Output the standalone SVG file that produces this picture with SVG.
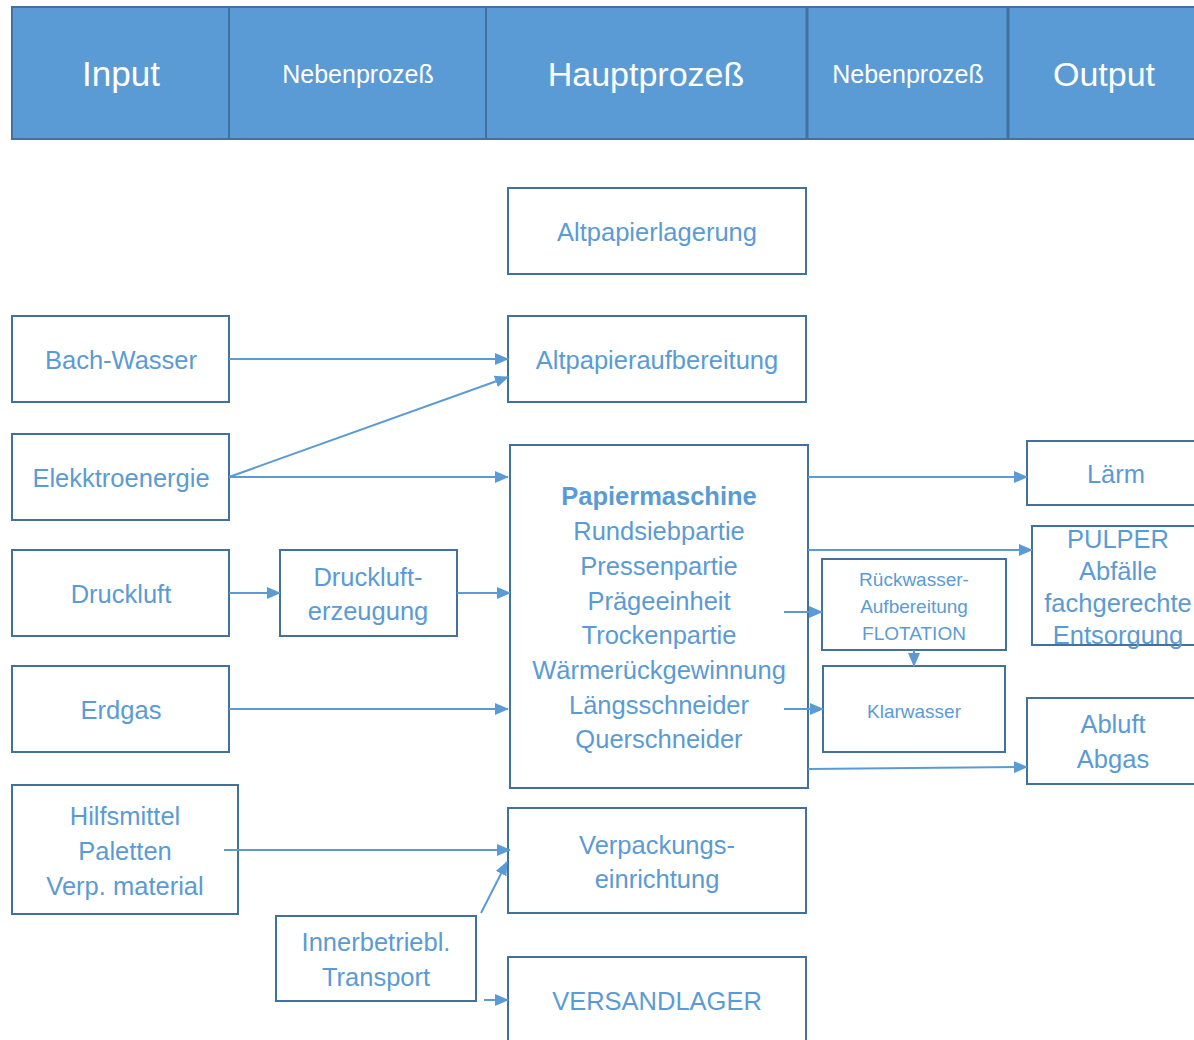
<svg xmlns="http://www.w3.org/2000/svg" width="1194" height="1040" viewBox="0 0 1194 1040">
<style>
.hdr{fill:#5B9BD5;stroke:#41719C;stroke-width:2}
.box{fill:#fff;stroke:#41719C;stroke-width:2}
.ht{fill:#fff;font-family:"Liberation Sans",Arial,sans-serif;text-anchor:middle}
.t{fill:#5B9BD5;font-family:"Liberation Sans",Arial,sans-serif;font-size:25.5px;text-anchor:middle}
.s{font-size:19px}
.c{stroke:#5B9BD5;stroke-width:2;fill:none;marker-end:url(#ah)}
</style>
<defs>
<marker id="ah" markerUnits="userSpaceOnUse" markerWidth="14" markerHeight="12" refX="13" refY="6" orient="auto">
<path d="M0,0 L14,6 L0,12 Z" fill="#5B9BD5"/>
</marker>
</defs>
<g id="header">
<rect class="hdr" x="12" y="7" width="1190" height="132"/>
<line x1="229" y1="7" x2="229" y2="139" stroke="#41719C" stroke-width="2"/>
<line x1="486" y1="7" x2="486" y2="139" stroke="#41719C" stroke-width="2"/>
<line x1="807" y1="7" x2="807" y2="139" stroke="#41719C" stroke-width="3"/>
<line x1="1008" y1="7" x2="1008" y2="139" stroke="#41719C" stroke-width="3"/>
<text class="ht" x="121" y="86" font-size="35">Input</text>
<text class="ht" x="358" y="83" font-size="25">Nebenprozeß</text>
<text class="ht" x="646" y="86" font-size="34">Hauptprozeß</text>
<text class="ht" x="908" y="83" font-size="25">Nebenprozeß</text>
<text class="ht" x="1104" y="86" font-size="34">Output</text>
</g>
<g id="altpapierlagerung"><rect class="box" x="508" y="188" width="298" height="86"/><text class="t" x="657" y="241">Altpapierlagerung</text></g>
<g id="altpapieraufbereitung"><rect class="box" x="508" y="316" width="298" height="86"/><text class="t" x="657" y="369">Altpapieraufbereitung</text></g>
<g id="bachwasser"><rect class="box" x="12" y="316" width="217" height="86"/><text class="t" x="121" y="369">Bach-Wasser</text></g>
<g id="elektroenergie"><rect class="box" x="12" y="434" width="217" height="86"/><text class="t" x="121" y="487">Elekktroenergie</text></g>
<g id="druckluft"><rect class="box" x="12" y="550" width="217" height="86"/><text class="t" x="121" y="603">Druckluft</text></g>
<g id="drucklufterzeugung"><rect class="box" x="280" y="550" width="177" height="86"/><text class="t" x="368" y="586">Druckluft-</text><text class="t" x="368" y="620">erzeugung</text></g>
<g id="erdgas"><rect class="box" x="12" y="666" width="217" height="86"/><text class="t" x="121" y="719">Erdgas</text></g>
<g id="hilfsmittel"><rect class="box" x="12" y="785" width="226" height="129"/><text class="t" x="125" y="825">Hilfsmittel</text><text class="t" x="125" y="860">Paletten</text><text class="t" x="125" y="895">Verp. material</text></g>
<g id="transport"><rect class="box" x="276" y="916" width="200" height="85"/><text class="t" x="376" y="951">Innerbetriebl.</text><text class="t" x="376" y="986">Transport</text></g>
<g id="papiermaschine"><rect class="box" x="510" y="445" width="298" height="343"/>
<text class="t" x="659" y="505" font-weight="bold">Papiermaschine</text>
<text class="t" x="659" y="540">Rundsiebpartie</text>
<text class="t" x="659" y="575">Pressenpartie</text>
<text class="t" x="659" y="610">Prägeeinheit</text>
<text class="t" x="659" y="644">Trockenpartie</text>
<text class="t" x="659" y="679">Wärmerückgewinnung</text>
<text class="t" x="659" y="714">Längsschneider</text>
<text class="t" x="659" y="748">Querschneider</text>
</g>
<g id="verpackung"><rect class="box" x="508" y="808" width="298" height="105"/><text class="t" x="657" y="854">Verpackungs-</text><text class="t" x="657" y="888">einrichtung</text></g>
<g id="versandlager"><rect class="box" x="508" y="957" width="298" height="90"/><text class="t" x="657" y="1010">VERSANDLAGER</text></g>
<g id="laerm"><rect class="box" x="1027" y="441" width="180" height="64"/><text class="t" x="1116" y="483">Lärm</text></g>
<g id="pulper"><rect class="box" x="1032" y="526" width="175" height="119"/><text class="t" x="1118" y="548">PULPER</text><text class="t" x="1118" y="580">Abfälle</text><text class="t" x="1118" y="612">fachgerechte</text><text class="t" x="1118" y="644">Entsorgung</text></g>
<g id="rueckwasser"><rect class="box" x="822" y="559" width="184" height="91"/><text class="t s" x="914" y="586">Rückwasser-</text><text class="t s" x="914" y="613">Aufbereitung</text><text class="t s" x="914" y="640">FLOTATION</text></g>
<g id="klarwasser"><rect class="box" x="823" y="666" width="182" height="86"/><text class="t s" x="914" y="718">Klarwasser</text></g>
<g id="abluft"><rect class="box" x="1027" y="698" width="180" height="86"/><text class="t" x="1113" y="733">Abluft</text><text class="t" x="1113" y="768">Abgas</text></g>
<g id="connectors">
<line class="c" x1="229" y1="359" x2="508" y2="359"/>
<line class="c" x1="229" y1="477" x2="508" y2="377"/>
<line class="c" x1="229" y1="477" x2="508" y2="477"/>
<line class="c" x1="229" y1="593" x2="280" y2="593"/>
<line class="c" x1="457" y1="593" x2="510" y2="593"/>
<line class="c" x1="229" y1="709" x2="508" y2="709"/>
<line class="c" x1="224" y1="850" x2="510" y2="850"/>
<line class="c" x1="481" y1="913" x2="507" y2="862"/>
<line class="c" x1="484" y1="1000" x2="508" y2="1000"/>
<line class="c" x1="808" y1="477" x2="1027" y2="477"/>
<line class="c" x1="808" y1="550" x2="1032" y2="550"/>
<line class="c" x1="784" y1="612" x2="822" y2="612"/>
<line class="c" x1="784" y1="709" x2="823" y2="709"/>
<line class="c" x1="914" y1="650" x2="914" y2="666"/>
<line class="c" x1="808" y1="769" x2="1027" y2="767"/>
</g>
</svg>
